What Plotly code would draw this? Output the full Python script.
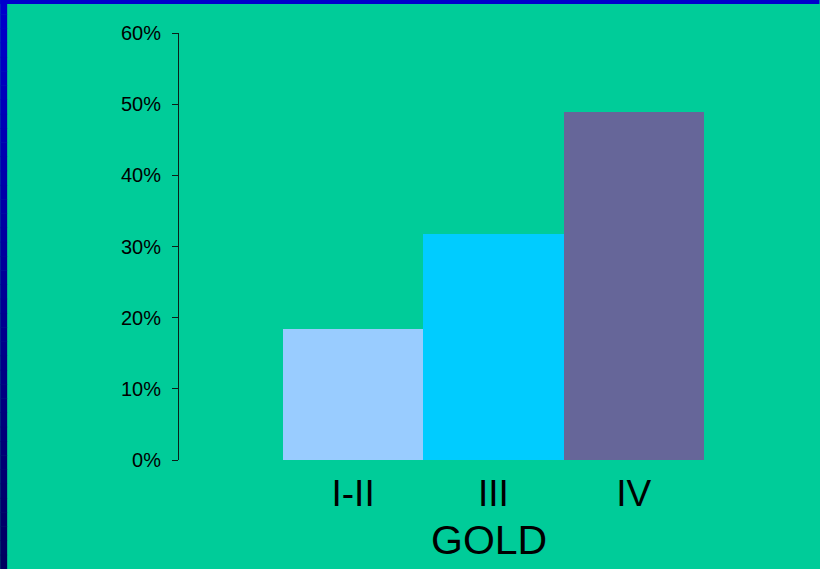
import plotly.graph_objects as go

# Stage groups and share of patients in each
stages = ["I-II", "III", "IV"]
shares = [0.184, 0.317, 0.489]
bar_colors = ["#99CCFF", "#00CCFF", "#666699"]
axis_title = "GOLD"

W, H = 820, 569
L, R, T, B = 179, 115.5, 33, 109
plot_w = W - L - R
plot_h = H - T - B

FONT = "Arial, 'Liberation Sans', sans-serif"
BG = "#00CC99"

fig = go.Figure()
fig.add_trace(go.Bar(
    x=list(range(len(stages))),
    y=shares,
    width=1.0,
    marker=dict(color=bar_colors, line=dict(width=0)),
    showlegend=False,
    hoverinfo="skip",
))


def px_x(px):
    return (px - L) / plot_w


def px_y(py):
    return (H - B - py) / plot_h


shapes = []
# top frame band
shapes.append(dict(type="rect", xref="paper", yref="paper",
                   x0=px_x(0), x1=px_x(W), y0=px_y(4), y1=px_y(0),
                   fillcolor="#0000CC", line=dict(width=0), layer="above"))
# left frame band, shaded from bright to dark blue downward
n = 40
for i in range(n):
    t = i / (n - 1)
    c = int(round(0xCC + (0x60 - 0xCC) * t))
    y0p = H * i / n
    y1p = H * (i + 1) / n
    shapes.append(dict(type="rect", xref="paper", yref="paper",
                       x0=px_x(0), x1=px_x(7), y0=px_y(y1p + 0.5), y1=px_y(y0p),
                       fillcolor=f"rgb(0,0,{c})", line=dict(width=0), layer="above"))

fig.update_layout(
    width=W, height=H,
    margin=dict(l=L, r=R, t=T, b=B, pad=0),
    paper_bgcolor=BG, plot_bgcolor=BG,
    bargap=0,
    shapes=shapes,
    xaxis=dict(
        range=[-0.5 - 104 / 140.5, 2.5],
        tickmode="array",
        tickvals=list(range(len(stages))),
        ticktext=stages,
        showline=False, showgrid=False, zeroline=False,
        ticks="",
        tickfont=dict(family=FONT, size=37, color="#000000"),
        ticklabelstandoff=8,
    ),
    yaxis=dict(
        range=[0, 0.6],
        dtick=0.1,
        tickformat=".0%",
        showline=True, linecolor="#0a1f18", linewidth=1,
        showgrid=False, zeroline=False,
        ticks="outside", ticklen=6, tickcolor="#0a1f18", tickwidth=1,
        tickfont=dict(family=FONT, size=20, color="#000000"),
        ticklabelstandoff=7,
    ),
    annotations=[dict(
        text=axis_title, xref="x", yref="paper",
        x=0.97, y=px_y(540), xanchor="center", yanchor="middle",
        showarrow=False,
        font=dict(family=FONT, size=41, color="#000000"),
    )],
)

fig.write_html("out.html")
